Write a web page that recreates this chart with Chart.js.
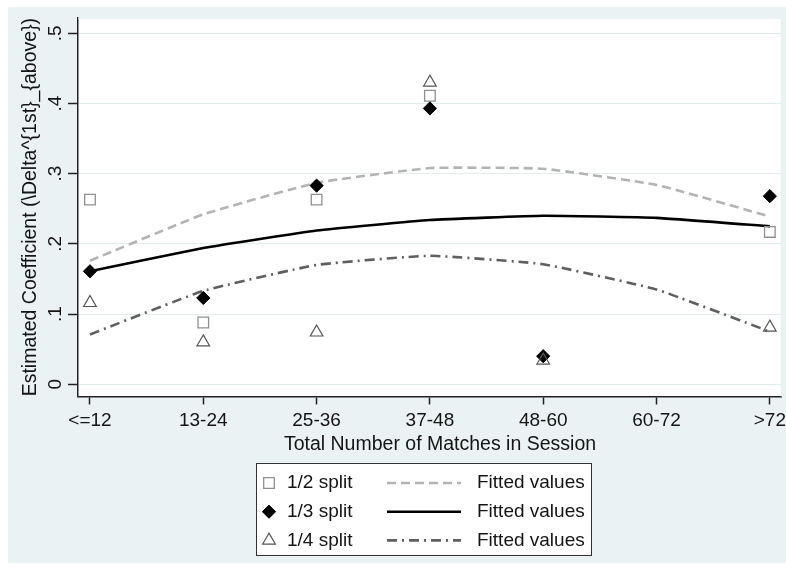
<!DOCTYPE html>
<html>
<head>
<meta charset="utf-8">
<script src="https://cdn.jsdelivr.net/npm/chart.js@4/dist/chart.umd.min.js"></script>
<style>
  html, body { margin: 0; padding: 0; background: #ffffff; }
  #wrap { width: 786px; height: 568px; }
</style>
</head>
<body>
<div id="wrap"><canvas id="c" width="786" height="568"></canvas></div>
<script>
// Session-size categories on the x axis
const categories = ['<=12', '13-24', '25-36', '37-48', '48-60', '60-72', '>72'];

// Estimated coefficients per split (null = no estimate)
const halfSplit    = [0.263, 0.088, 0.263, 0.411, null, null, 0.217];
const thirdSplit   = [0.161, 0.123, 0.283, 0.393, 0.040, null, 0.268];
const quarterSplit = [0.116, 0.060, 0.074, 0.430, 0.034, null, 0.081];

// Quadratic fitted values per split
const halfFit    = [0.176, 0.242, 0.287, 0.308, 0.307, 0.284, 0.239];
const thirdFit   = [0.161, 0.194, 0.219, 0.234, 0.240, 0.237, 0.225];
const quarterFit = [0.071, 0.133, 0.170, 0.183, 0.171, 0.135, 0.075];

// Y axis ticks
const yTickValues = [0, 0.1, 0.2, 0.3, 0.4, 0.5];
const yTickLabels = ['0', '.1', '.2', '.3', '.4', '.5'];

const seriesNames = ['1/2 split', '1/3 split', '1/4 split'];
const fitName = 'Fitted values';
const xTitle = 'Total Number of Matches in Session';
const yTitle = 'Estimated Coefficient (\\Delta^{1st}_{above})';

const FAMILY = "'Liberation Sans', Arial, Helvetica, sans-serif";
const FONT = { family: FAMILY, size: 19 };
const TITLE_FONT = { family: FAMILY, size: 19.5 };
const TEXT = '#141414';
const AXIS = '#222222';
const GRID = '#e4eded';
const OUTER_BG = '#eaf2f3';

const toXY = arr => arr.map((v, i) => ({ x: i, y: v })).filter(p => p.y !== null);

const pointSets = [
  { label: seriesNames[0], data: toXY(halfSplit), pointStyle: 'rect', pointRadius: 7.5,
    pointBorderColor: '#8f8f8f', pointBackgroundColor: 'rgba(0,0,0,0)', pointBorderWidth: 1.3, order: 3 },
  { label: seriesNames[1], data: toXY(thirdSplit), pointStyle: 'rectRot', pointRadius: 6.6,
    pointBorderColor: '#000000', pointBackgroundColor: '#000000', pointBorderWidth: 1, order: 2 },
  { label: seriesNames[2], data: toXY(quarterSplit), pointStyle: 'triangle', pointRadius: 7.3,
    pointBorderColor: '#555555', pointBackgroundColor: 'rgba(0,0,0,0)', pointBorderWidth: 1.2, order: 1 }
];

const fitSets = [
  { label: fitName, data: toXY(halfFit), borderColor: '#b3b3b3', borderWidth: 2.6, borderDash: [9, 5], order: 6 },
  { label: fitName, data: toXY(thirdFit), borderColor: '#000000', borderWidth: 2.6, borderDash: [], order: 5 },
  { label: fitName, data: toXY(quarterFit), borderColor: '#5f5f5f', borderWidth: 2.6, borderDash: [10, 5, 2, 5], order: 4 }
];

const datasets = [];
pointSets.forEach(p => datasets.push(Object.assign({ type: 'scatter', showLine: false, clip: 8 }, p)));
fitSets.forEach(f => datasets.push(Object.assign({
  type: 'scatter', showLine: true, pointRadius: 0, pointHoverRadius: 0, tension: 0.12, fill: false
}, f)));

// Background: outer panel, white plot region
const panelPlugin = {
  id: 'panel',
  beforeDraw(chart) {
    const { ctx, chartArea: a } = chart;
    ctx.save();
    ctx.fillStyle = '#ffffff';
    ctx.fillRect(0, 0, chart.width, chart.height);
    ctx.fillStyle = OUTER_BG;
    ctx.fillRect(8, 7, chart.width - 8, 556);
    ctx.fillStyle = '#ffffff';
    ctx.fillRect(a.left, a.top, a.right - a.left, a.bottom - a.top);
    ctx.restore();
  },
  beforeDatasetsDraw(chart) {
    const { ctx, chartArea: a } = chart;
    ctx.save();
    ctx.strokeStyle = GRID;
    ctx.lineWidth = 1;
    ctx.beginPath();
    ctx.moveTo(a.left, a.top + 0.5);
    ctx.lineTo(a.right - 0.5, a.top + 0.5);
    ctx.lineTo(a.right - 0.5, a.bottom);
    ctx.stroke();
    ctx.restore();
  }
};

// X axis title, centred on the full graph width
const xTitlePlugin = {
  id: 'xTitle',
  afterDraw(chart) {
    const ctx = chart.ctx;
    ctx.save();
    ctx.font = TITLE_FONT.size + 'px ' + TITLE_FONT.family;
    ctx.fillStyle = TEXT;
    ctx.textAlign = 'center';
    ctx.textBaseline = 'middle';
    ctx.fillText(xTitle, 440, 444.5);
    ctx.restore();
  }
};

// Boxed two-column legend under the plot
const boxLegendPlugin = {
  id: 'boxLegend',
  afterDraw(chart) {
    const ctx = chart.ctx;
    const ds = chart.data.datasets;
    ctx.save();
    ctx.fillStyle = '#ffffff';
    ctx.fillRect(256.5, 463.5, 335, 92);
    ctx.strokeStyle = '#333333';
    ctx.lineWidth = 1;
    ctx.strokeRect(256.5, 463.5, 335, 92);
    ctx.font = FONT.size + 'px ' + FONT.family;
    ctx.textBaseline = 'middle';
    ctx.textAlign = 'left';
    for (let i = 0; i < 3; i++) {
      const y = 483 + i * 28.7;
      const p = ds[i];
      const f = ds[i + 3];
      ctx.save();
      ctx.fillStyle = p.pointBackgroundColor;
      ctx.strokeStyle = p.pointBorderColor;
      ctx.lineWidth = p.pointBorderWidth;
      Chart.helpers.drawPoint(ctx, {
        pointStyle: p.pointStyle, radius: p.pointRadius, rotation: 0, borderWidth: p.pointBorderWidth
      }, 269, y);
      ctx.restore();
      ctx.fillStyle = TEXT;
      ctx.fillText(p.label, 287, y);
      ctx.save();
      ctx.strokeStyle = f.borderColor;
      ctx.lineWidth = f.borderWidth;
      ctx.setLineDash(f.borderDash);
      ctx.beginPath();
      ctx.moveTo(387, y);
      ctx.lineTo(461, y);
      ctx.stroke();
      ctx.restore();
      ctx.fillStyle = TEXT;
      ctx.fillText(f.label, 477, y);
    }
    ctx.restore();
  }
};

new Chart(document.getElementById('c'), {
  type: 'scatter',
  data: { datasets },
  options: {
    responsive: false,
    animation: false,
    devicePixelRatio: 1,
    layout: { autoPadding: false, padding: { top: 17.7, right: 3, left: 0, bottom: 0 } },
    plugins: { legend: { display: false }, tooltip: { enabled: false } },
    scales: {
      x: {
        type: 'linear',
        min: -0.1057,
        max: 6.1057,
        afterBuildTicks: s => { s.ticks = categories.map((_, i) => ({ value: i })); },
        afterFit: s => { s.height = 171.5; },
        ticks: {
          autoSkip: false, maxRotation: 0, minRotation: 0, padding: 0,
          font: { family: FAMILY, size: 19, lineHeight: 1.737 }, color: TEXT,
          callback: v => categories[v]
        },
        grid: { drawOnChartArea: false, drawTicks: true, tickLength: 8, tickColor: AXIS, tickWidth: 1.5 },
        border: { display: true, color: AXIS, width: 1.5 },
        title: { display: false }
      },
      y: {
        type: 'linear',
        min: -0.0174,
        max: 0.5222,
        afterBuildTicks: s => { s.ticks = yTickValues.map(v => ({ value: v })); },
        afterFit: s => { s.width = 78; },
        ticks: {
          minRotation: 90, maxRotation: 90, crossAlign: 'center', padding: 4,
          font: FONT, color: TEXT,
          callback: v => yTickLabels[yTickValues.findIndex(t => Math.abs(t - v) < 1e-9)]
        },
        grid: { color: GRID, lineWidth: 1, drawTicks: true, tickLength: 10, tickColor: AXIS, tickWidth: 1.5 },
        border: { display: true, color: AXIS, width: 1.5 },
        title: {
          display: true, text: yTitle,
          font: TITLE_FONT, color: TEXT, padding: { top: 18.7, bottom: 0 }
        }
      }
    }
  },
  plugins: [panelPlugin, xTitlePlugin, boxLegendPlugin]
});
</script>
</body>
</html>
